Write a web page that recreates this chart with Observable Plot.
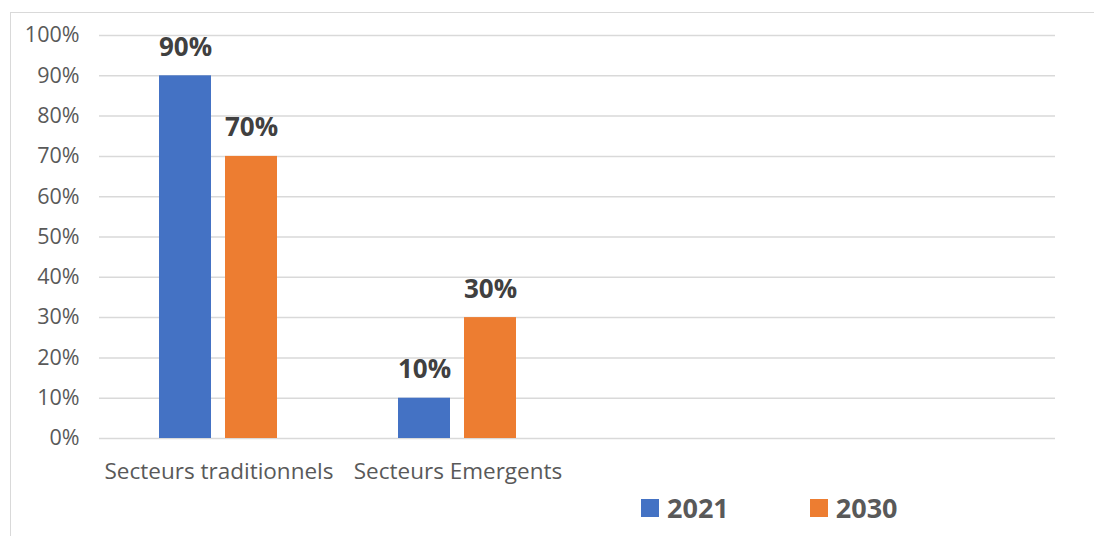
<!DOCTYPE html>
<html>
<head>
<meta charset="utf-8">
<script src="https://cdn.jsdelivr.net/npm/d3@7"></script>
<script src="https://cdn.jsdelivr.net/npm/@observablehq/plot@0.6"></script>
<style>
  html, body { margin: 0; padding: 0; background: #fff; }
  body { width: 1094px; height: 536px; position: relative; overflow: hidden; font-family: "Open Sans", sans-serif; }
  #frame { position: absolute; left: 10px; top: 12px; width: 1100px; height: 560px; border: 1px solid #d9d9d9; box-sizing: border-box; }
  #chart { position: absolute; left: 0; top: 0; }
  #legend { position: absolute; top: 489px; left: 641px; display: flex; align-items: center; font-weight: bold; font-size: 27px; color: #595959; }
  #legend .item { display: flex; align-items: center; margin-right: 81px; }
  #legend .sw { width: 18px; height: 18px; margin-right: 8px; }
</style>
</head>
<body>
<div id="frame"></div>
<div id="chart"></div>
<div id="legend"></div>
<script>
const categories = ["Secteurs traditionnels", "Secteurs Emergents"];
const emptySlots = [" ", "  "];
const years = ["2021", "2030"];
const values2021 = [90, 10];
const values2030 = [70, 30];
const colors = ["#4472C4", "#ED7D31"];
const yTicks = [0, 10, 20, 30, 40, 50, 60, 70, 80, 90, 100];

const slots = [...categories, ...emptySlots];
const data = [];
categories.forEach((c, i) => {
  data.push({category: c, year: years[0], value: values2021[i]});
  data.push({category: c, year: years[1], value: values2030[i]});
});
const grid = slots.flatMap(s => yTicks.map(t => ({slot: s, tick: t})));

const plot = Plot.plot({
  width: 1094,
  height: 490,
  marginLeft: 97,
  marginRight: 38,
  marginTop: 35,
  marginBottom: 52,
  style: {fontFamily: "Open Sans, sans-serif", background: "transparent"},
  fx: {domain: slots, paddingInner: 0, paddingOuter: 0, label: null},
  x: {domain: years, paddingInner: 0.209, paddingOuter: 0.896, axis: null},
  y: {domain: [0, 100], axis: null, label: null},
  color: {domain: years, range: colors},
  marks: [
    Plot.ruleY(grid, {fx: "slot", y: "tick", stroke: "#d9d9d9", strokeWidth: 1.5}),
    Plot.axisY({ticks: yTicks, tickSize: 0, tickPadding: 20, tickFormat: d => d + "%", fontSize: 21.5, fill: "#595959", label: null}),
    Plot.axisFx({anchor: "bottom", tickSize: 0, tickPadding: 25, fontSize: 22.5, fill: "#595959", label: null}),
    Plot.barY(data, {fx: "category", x: "year", y: "value", fill: "year"}),
    Plot.text(data, {fx: "category", x: "year", y: "value", text: d => d.value + "%", lineAnchor: "bottom", dy: -20, fontSize: 26, fontWeight: "bold", fill: "#404040"})
  ]
});
document.getElementById("chart").appendChild(plot);

const legend = document.getElementById("legend");
years.forEach((y, i) => {
  const item = document.createElement("div");
  item.className = "item";
  const sw = document.createElement("div");
  sw.className = "sw";
  sw.style.background = colors[i];
  const t = document.createElement("span");
  t.textContent = y;
  item.appendChild(sw);
  item.appendChild(t);
  legend.appendChild(item);
});
</script>
</body>
</html>
